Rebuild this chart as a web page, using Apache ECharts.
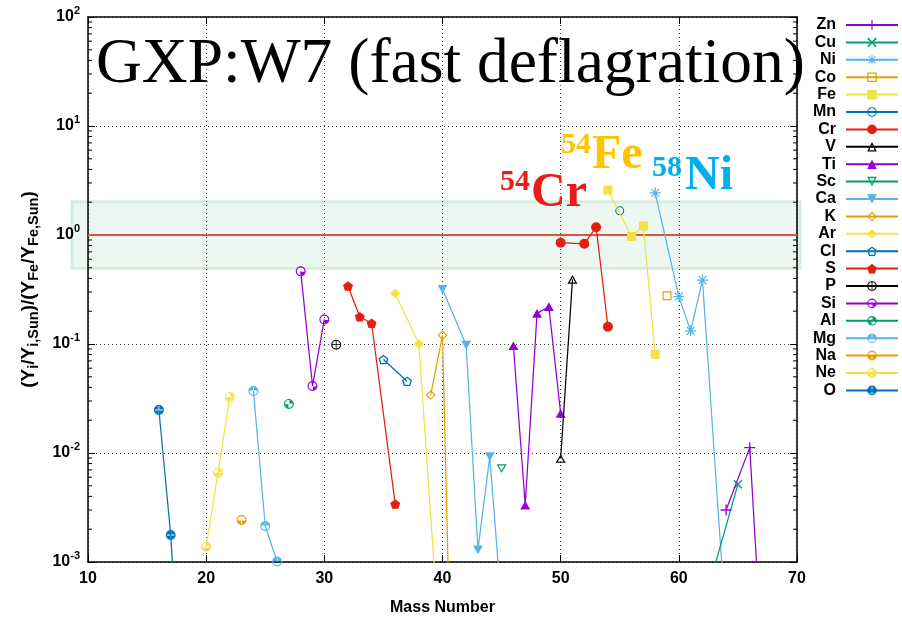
<!DOCTYPE html>
<html>
<head>
<meta charset="utf-8">
<script src="https://cdn.jsdelivr.net/npm/echarts@6/dist/echarts.min.js"></script>
<style>
  html, body { margin: 0; padding: 0; background: #fff; }
  #chart { width: 902px; height: 619px; }
</style>
</head>
<body>
<div id="chart"></div>
<script>
// Isotopic ratios (Y_i/Y_i,Sun)/(Y_Fe/Y_Fe,Sun) for each element: [mass number, ratio]
const Zn = [[64, 0.0030], [66, 0.0112], [67, 1.6e-4]];
const Cu = [[63, 8.9e-4], [65, 0.00516]];
const Ni = [[58, 2.44], [60, 0.272], [61, 0.132], [62, 0.386], [64, 2.5e-4]];
const Co = [[59, 0.277]];
const Fe = [[54, 2.59], [56, 0.97], [57, 1.21], [58, 0.0804]];
const Mn = [[55, 1.67]];
const Cr = [[50, 0.85], [52, 0.83], [53, 1.18], [54, 0.144]];
const V  = [[50, 0.0089], [51, 0.392]];
const Ti = [[46, 0.0964], [47, 0.00333], [48, 0.191], [49, 0.22], [50, 0.0231]];
const Sc = [[45, 0.0072]];
const Ca = [[40, 0.318], [42, 0.098], [43, 0.00129], [44, 0.00925], [46, 1.6e-5]];
const K  = [[39, 0.034], [40, 0.12], [41, 4e-6]];
const Ar = [[36, 0.29], [38, 0.1], [40, 7e-5]];
const Cl = [[35, 0.072], [37, 0.0455]];
const S  = [[32, 0.34], [33, 0.178], [34, 0.155], [36, 0.0034]];
const P  = [[31, 0.0986]];
const Si = [[28, 0.464], [29, 0.0412], [30, 0.168]];
const Al = [[27, 0.0282]];
const Mg = [[24, 0.037], [25, 0.00214], [26, 0.00101]];
const Na = [[23, 0.00243]];
const Ne = [[20, 0.00138], [21, 0.0066], [22, 0.0327]];
const O  = [[16, 0.0248], [17, 0.00177], [18, 3.0e-5]];

const elementNames = ['Zn', 'Cu', 'Ni', 'Co', 'Fe', 'Mn', 'Cr', 'V', 'Ti', 'Sc', 'Ca',
                      'K', 'Ar', 'Cl', 'S', 'P', 'Si', 'Al', 'Mg', 'Na', 'Ne', 'O'];
const elementData = { Zn, Cu, Ni, Co, Fe, Mn, Cr, V, Ti, Sc, Ca, K, Ar, Cl, S, P, Si, Al, Mg, Na, Ne, O };

const xRange = [10, 70];
const yRange = [1e-3, 1e2];
const solarBand = [0.5, 2];
const referenceRatio = 1;

const titleText = 'GXP:W7 (fast deflagration)';
const isotopeNotes = [
  { mass: '54', elem: 'Cr', color: '#ec1b1b', sx: 500, ex: 531, base: 210, supBase: 192 },
  { mass: '54', elem: 'Fe', color: '#ffc400', sx: 561, ex: 592, base: 172, supBase: 155 },
  { mass: '58', elem: 'Ni', color: '#00aeef', sx: 652, ex: 685, base: 193, supBase: 178 }
];

// gnuplot-like colour cycle
const palette = ['#9400d3', '#009e73', '#56b4e9', '#e69f00', '#f0e442', '#0072b2', '#e51e10', '#000000'];

// ---------- point shapes as SVG paths ----------
const f = n => (Math.round(n * 100) / 100).toString();
const poly = pts => 'M' + pts.map(p => f(p[0]) + ' ' + f(p[1])).join(' L') + ' Z';
const shrink = (pts, k, c) => pts.map(p => [c[0] + (p[0] - c[0]) * k, c[1] + (p[1] - c[1]) * k]).reverse();
const open = (pts, c, k) => poly(pts) + ' ' + poly(shrink(pts, k, c));
const rot = (pts, deg) => {
  const a = deg * Math.PI / 180, cs = Math.cos(a), sn = Math.sin(a);
  return pts.map(p => [10 + (p[0] - 10) * cs - (p[1] - 10) * sn, 10 + (p[0] - 10) * sn + (p[1] - 10) * cs]);
};
const plusPts = w => [[10 - w, 0], [10 + w, 0], [10 + w, 10 - w], [20, 10 - w], [20, 10 + w], [10 + w, 10 + w],
                      [10 + w, 20], [10 - w, 20], [10 - w, 10 + w], [0, 10 + w], [0, 10 - w], [10 - w, 10 - w]];
const square = [[0, 0], [20, 0], [20, 20], [0, 20]];
const triUp = [[10, 0], [20, 17.32], [0, 17.32]];
const triDown = [[0, 0], [20, 0], [10, 17.32]];
const diamond = [[10, 0], [20, 10], [10, 20], [0, 10]];
const pentagon = [0, 1, 2, 3, 4].map(k => {
  const a = (-90 + 72 * k) * Math.PI / 180;
  return [10 + 10 * Math.cos(a), 10 + 10 * Math.sin(a)];
});
function ring(R, r) {
  return `M${10 - R} 10 A${R} ${R} 0 1 1 ${10 + R} 10 A${R} ${R} 0 1 1 ${10 - R} 10 Z ` +
         `M${10 - r} 10 A${r} ${r} 0 1 0 ${10 + r} 10 A${r} ${r} 0 1 0 ${10 - r} 10 Z`;
}
function quad(q, r, g) {
  const c = 10;
  const S = Math.sqrt(r * r - g * g);
  if (q === 'tr') return `M${c + g} ${c - g} L${c + g} ${c - S} A${r} ${r} 0 0 1 ${c + S} ${c - g} Z`;
  if (q === 'br') return `M${c + g} ${c + g} L${c + S} ${c + g} A${r} ${r} 0 0 1 ${c + g} ${c + S} Z`;
  if (q === 'bl') return `M${c - g} ${c + g} L${c - g} ${c + S} A${r} ${r} 0 0 1 ${c - S} ${c + g} Z`;
  return `M${c - g} ${c - g} L${c - S} ${c - g} A${r} ${r} 0 0 1 ${c - g} ${c - S} Z`;
}
const pie = qs => 'path://' + ring(10, 7.6) + ' ' + qs.map(q => quad(q, 7.6, 0.9)).join(' ');

const shapes = {
  plus: 'path://' + poly(plusPts(1.2)),
  cross: 'path://' + poly(rot(plusPts(1.3), 45)),
  star: 'path://' + poly(plusPts(1.1)) + ' ' + poly(rot(plusPts(1.1), 45)),
  openSquare: 'path://' + open(square, [10, 10], 0.74),
  square: 'path://' + poly(square),
  openCircle: 'path://' + ring(10, 7.6),
  circle: 'circle',
  openTriUp: 'path://' + open(triUp, [10, 11.55], 0.58),
  triUp: 'path://' + poly(triUp),
  openTriDown: 'path://' + open(triDown, [10, 5.77], 0.58),
  triDown: 'path://' + poly(triDown),
  openDiamond: 'path://' + open(diamond, [10, 10], 0.68),
  diamond: 'path://' + poly(diamond),
  openPentagon: 'path://' + open(pentagon, [10, 10], 0.7),
  pentagon: 'path://' + poly(pentagon),
  circCross: 'path://' + ring(10, 7.6) + ' ' + poly([[2.4, 9.3], [17.6, 9.3], [17.6, 10.7], [2.4, 10.7]]) +
             ' ' + poly([[9.3, 2.4], [10.7, 2.4], [10.7, 17.6], [9.3, 17.6]]),
  pieBR: pie(['br']),
  pieDiag: pie(['tr', 'bl']),
  pieTop: pie(['tl', 'tr']),
  pieBottom: pie(['bl', 'br']),
  pieThree: pie(['tr', 'bl', 'br']),
  pieAll: pie(['tl', 'tr', 'bl', 'br'])
};
const shapeOrder = ['plus', 'cross', 'star', 'openSquare', 'square', 'openCircle', 'circle', 'openTriUp',
                    'triUp', 'openTriDown', 'triDown', 'openDiamond', 'diamond', 'openPentagon', 'pentagon',
                    'circCross', 'pieBR', 'pieDiag', 'pieTop', 'pieBottom', 'pieThree', 'pieAll'];
const shapeSize = { plus: 11, cross: 9, star: 11, openSquare: 9, square: 9, openCircle: 9, circle: 10,
                    openTriUp: 10, triUp: 10, openTriDown: 10, triDown: 10, openDiamond: 10, diamond: 10,
                    openPentagon: 10, pentagon: 10, circCross: 10, pieBR: 10, pieDiag: 10, pieTop: 10,
                    pieBottom: 10, pieThree: 10, pieAll: 10 };

const sansBold = { fontFamily: 'Liberation Sans, Arial, sans-serif', fontWeight: 'bold', color: '#000' };

const chart = echarts.init(document.getElementById('chart'), null, { renderer: 'canvas' });

const elementSeries = elementNames.map((name, i) => {
  const shape = shapeOrder[i];
  const color = palette[i % palette.length];
  return {
    name: name,
    type: 'line',
    data: elementData[name],
    xAxisIndex: 0, yAxisIndex: 0,
    clip: true,
    symbol: shapes[shape],
    symbolSize: shapeSize[shape],
    symbolKeepAspect: true,
    showAllSymbol: true,
    lineStyle: { color: color, width: 1.25 },
    itemStyle: { color: color },
    emphasis: { disabled: true },
    z: 3 + (elementNames.length - i) * 0.01
  };
});

// log-scale minor ticks (2..9 within each decade)
const minorTicks = [];
for (let e = -3; e < 2; e++) for (let k = 2; k <= 9; k++) minorTicks.push(k * Math.pow(10, e));

const supFmt = v => '{b|10}{e|' + Math.round(Math.log10(v)) + '}';

const option = {
  animation: false,
  backgroundColor: '#ffffff',
  grid: { left: 88, right: 105, top: 17, bottom: 57, show: false, containLabel: false, outerBoundsMode: 'none' },
  legend: {
    data: elementNames,
    orient: 'vertical',
    align: 'right',
    right: 3,
    top: 17,
    padding: 0,
    itemWidth: 52,
    itemHeight: 12,
    itemGap: 1.4,
    textStyle: Object.assign({ fontSize: 16, padding: [0, 5, 0, 0] }, sansBold),
    selectedMode: false
  },
  xAxis: [
    {
      type: 'value', min: xRange[0], max: xRange[1], interval: 10,
      name: 'Mass Number', nameLocation: 'middle', nameGap: 38,
      nameTextStyle: Object.assign({ fontSize: 16 }, sansBold),
      axisLine: { show: true, onZero: false, lineStyle: { color: '#000', width: 1.5 } },
      axisTick: { show: true, inside: true, length: 7, lineStyle: { color: '#000', width: 1 } },
      axisLabel: Object.assign({ fontSize: 16, margin: 9 }, sansBold),
      splitLine: { show: true, lineStyle: { color: '#444', width: 1, type: [1, 3] } }
    },
    {
      type: 'value', min: xRange[0], max: xRange[1], interval: 10, position: 'top',
      axisLine: { show: true, onZero: false, lineStyle: { color: '#000', width: 1.5 } },
      axisTick: { show: true, inside: true, length: 7, lineStyle: { color: '#000', width: 1 } },
      axisLabel: { show: false }, splitLine: { show: false }
    }
  ],
  yAxis: [
    {
      type: 'log', logBase: 10, min: yRange[0], max: yRange[1],
      name: '{n|(Y}{s|i}{n|/Y}{s|i,Sun}{n|)/(Y}{s|Fe}{n|/Y}{s|Fe,Sun}{n|)}',
      nameLocation: 'middle', nameGap: 43, nameRotate: 90,
      nameTextStyle: {
        rich: {
          n: Object.assign({ fontSize: 19 }, sansBold),
          s: Object.assign({ fontSize: 14.5, padding: [10, 0, 0, 0] }, sansBold)
        }
      },
      axisLine: { show: true, onZero: false, lineStyle: { color: '#000', width: 1.5 } },
      axisTick: { show: true, inside: true, length: 7, lineStyle: { color: '#000', width: 1 } },
      axisLabel: {
        margin: 8,
        formatter: supFmt,
        rich: {
          b: Object.assign({ fontSize: 16 }, sansBold),
          e: Object.assign({ fontSize: 11, padding: [0, 0, 13, 0] }, sansBold)
        }
      },
      splitLine: { show: true, lineStyle: { color: '#444', width: 1, type: [1, 3] } }
    },
    {
      type: 'log', logBase: 10, min: yRange[0], max: yRange[1], position: 'right',
      axisLine: { show: true, onZero: false, lineStyle: { color: '#000', width: 1.5 } },
      axisTick: { show: true, inside: true, length: 7, lineStyle: { color: '#000', width: 1 } },
      axisLabel: { show: false }, splitLine: { show: false }
    }
  ],
  series: [
    {
      name: 'solar',
      type: 'line',
      data: [[xRange[0], referenceRatio], [xRange[1], referenceRatio]],
      symbol: 'none',
      lineStyle: { color: '#e2533f', width: 2 },
      silent: true,
      z: 2
    },
    {
      name: 'minor ticks',
      type: 'custom',
      silent: true,
      clip: false,
      data: minorTicks.map(v => [xRange[0], v]),
      renderItem: (params, api) => {
        const v = api.value(1);
        const l = api.coord([xRange[0], v]);
        const r = api.coord([xRange[1], v]);
        return {
          type: 'group',
          children: [
            { type: 'line', shape: { x1: l[0], y1: l[1], x2: l[0] + 4, y2: l[1] }, style: { stroke: '#000', lineWidth: 1 } },
            { type: 'line', shape: { x1: r[0] - 4, y1: r[1], x2: r[0], y2: r[1] }, style: { stroke: '#000', lineWidth: 1 } }
          ]
        };
      },
      z: 4
    }
  ].concat(elementSeries)
};

chart.setOption(option);

// shaded band spanning a factor of two around the solar ratio, plus title and isotope notes
const bandTop = chart.convertToPixel({ yAxisIndex: 0 }, solarBand[1]);
const bandBottom = chart.convertToPixel({ yAxisIndex: 0 }, solarBand[0]);
const serif = 'Liberation Serif, Times New Roman, serif';
const graphics = [
  {
    type: 'rect', z: -10, silent: true,
    shape: { x: 72, y: bandTop - 0.5, width: 728, height: bandBottom - bandTop + 1 },
    style: { fill: '#edf7f1', stroke: '#d6ede0', lineWidth: 3 }
  },
  {
    type: 'text', z: 10, silent: true, x: 96, y: 87 - 0.34 * 63.5,
    style: { text: titleText, font: '63.5px ' + serif, fill: '#000', align: 'left', verticalAlign: 'middle' }
  }
];
isotopeNotes.forEach(n => {
  graphics.push({
    type: 'text', z: 10, silent: true, x: n.sx, y: n.supBase - 0.34 * 30,
    style: { text: n.mass, font: 'bold 30px ' + serif, fill: n.color, align: 'left', verticalAlign: 'middle' }
  });
  graphics.push({
    type: 'text', z: 10, silent: true, x: n.ex, y: n.base - 0.34 * 48,
    style: { text: n.elem, font: 'bold 48px ' + serif, fill: n.color, align: 'left', verticalAlign: 'middle' }
  });
});
chart.setOption({ graphic: graphics });
</script>
</body>
</html>
